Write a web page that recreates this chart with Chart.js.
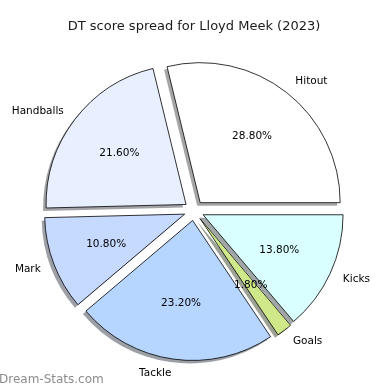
<!DOCTYPE html>
<html>
<head>
<meta charset="utf-8">
<script src="https://cdn.jsdelivr.net/npm/chart.js@4"></script>
<style>
html,body{margin:0;padding:0;background:#fff;}
#wrap{width:390px;height:390px;position:relative;}
</style>
</head>
<body>
<div id="wrap"><canvas id="c" width="390" height="390"></canvas></div>
<script>
const titleText = "DT score spread for Lloyd Meek (2023)";
const categories = ["Hitout", "Handballs", "Mark", "Tackle", "Goals", "Kicks"];
const shares = [28.8, 21.6, 10.8, 23.2, 1.8, 13.8];
const sliceColors = ["#ffffff", "#e8f0ff", "#c6d9ff", "#b6d5ff", "#cfe88a", "#d9ffff"];
const watermark = "Dream-Stats.com";

// matplotlib draws counter-clockwise from 3 o'clock; Chart.js draws clockwise,
// so feed the series reversed starting at 3 o'clock.
const revLabels = categories.slice().reverse();
const revValues = shares.slice().reverse();
const revColors = sliceColors.slice().reverse();

const FONT = "DejaVu Sans";
const EXPLODE = 10; // pixels each wedge is pushed outwards

function darken(hex) {
  const n = parseInt(hex.slice(1), 16);
  const r = (n >> 16) & 255, g = (n >> 8) & 255, b = n & 255;
  return `rgba(${Math.round(r*0.3)},${Math.round(g*0.3)},${Math.round(b*0.3)},0.5)`;
}

function arcGeom(arc) {
  const p = arc.getProps(['x','y','startAngle','endAngle','outerRadius']);
  const mid = (p.startAngle + p.endAngle) / 2;
  return { cx: p.x + Math.cos(mid) * EXPLODE, cy: p.y + Math.sin(mid) * EXPLODE, mid, r: p.outerRadius, s: p.startAngle, e: p.endAngle };
}

// push each wedge out (like matplotlib's explode) without enlarging its radius
const explodePlugin = {
  id: 'explodePlugin',
  beforeDatasetsDraw(chart) {
    const meta = chart.getDatasetMeta(0);
    meta.data.forEach((arc) => {
      if (arc._exploded) return;
      const orig = arc.draw.bind(arc);
      arc.draw = function (ctx) {
        const mid = (this.startAngle + this.endAngle) / 2;
        ctx.save();
        ctx.translate(Math.cos(mid) * EXPLODE, Math.sin(mid) * EXPLODE);
        orig(ctx);
        ctx.restore();
      };
      arc._exploded = true;
    });
  }
};

const shadowPlugin = {
  id: 'shadowPlugin',
  beforeDatasetsDraw(chart) {
    const ctx = chart.ctx;
    const meta = chart.getDatasetMeta(0);
    meta.data.forEach((arc, i) => {
      const g = arcGeom(arc);
      const cx = g.cx - 3, cy = g.cy + 3;
      ctx.save();
      ctx.beginPath();
      ctx.moveTo(cx, cy);
      ctx.arc(cx, cy, g.r, g.s, g.e);
      ctx.closePath();
      ctx.fillStyle = darken(revColors[i]);
      ctx.fill();
      ctx.restore();
    });
  }
};

const labelPlugin = {
  id: 'labelPlugin',
  afterDatasetsDraw(chart) {
    const ctx = chart.ctx;
    const meta = chart.getDatasetMeta(0);
    ctx.save();
    ctx.font = `10.5px "${FONT}"`;
    ctx.fillStyle = '#000';
    ctx.textBaseline = 'middle';
    meta.data.forEach((arc, i) => {
      const g = arcGeom(arc);
      ctx.textAlign = 'center';
      ctx.fillText(revValues[i].toFixed(2) + '%', g.cx + Math.cos(g.mid) * g.r * 0.6, g.cy + Math.sin(g.mid) * g.r * 0.6);
      const lx = g.cx + Math.cos(g.mid) * g.r * 1.1;
      const ly = g.cy + Math.sin(g.mid) * g.r * 1.1;
      ctx.textAlign = Math.cos(g.mid) > 0 ? 'left' : 'right';
      ctx.fillText(revLabels[i], lx, ly);
    });
    ctx.restore();
    ctx.save();
    ctx.font = `12px "${FONT}"`;
    ctx.fillStyle = 'rgba(120,120,120,0.85)';
    ctx.textAlign = 'left';
    ctx.textBaseline = 'middle';
    ctx.fillText(watermark, -1, 380);
    ctx.restore();
  }
};

new Chart(document.getElementById('c'), {
  type: 'pie',
  data: {
    labels: revLabels,
    datasets: [{
      data: revValues,
      backgroundColor: revColors,
      borderColor: '#000',
      borderWidth: 0.8,
      offset: 0,
      hoverOffset: 0
    }]
  },
  options: {
    responsive: false,
    animation: false,
    rotation: 90,
    radius: 140,
    layout: { padding: { left: 0, right: 2, top: 0, bottom: 12.5 } },
    plugins: {
      legend: { display: false },
      tooltip: { enabled: false },
      title: {
        display: true,
        text: titleText,
        color: '#1a1a1a',
        font: { family: FONT, size: 13, weight: 'normal' },
        padding: { top: 19, bottom: 9 }
      }
    }
  },
  plugins: [shadowPlugin, explodePlugin, labelPlugin]
});
</script>
</body>
</html>
